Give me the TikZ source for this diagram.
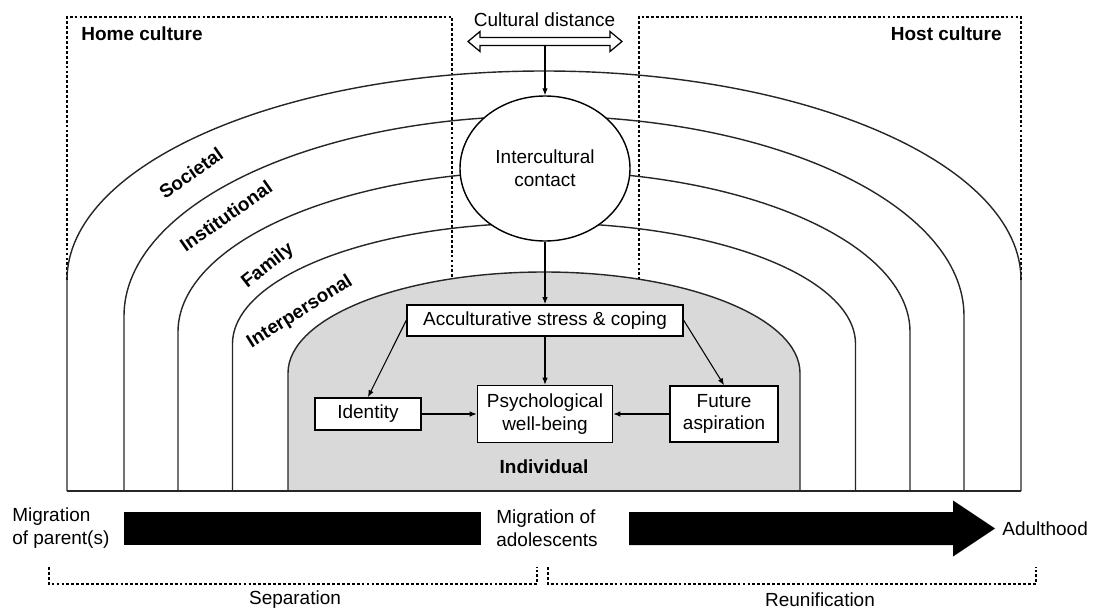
\documentclass[tikz,border=0pt]{standalone}
\usepackage{fontspec}
\setmainfont{Liberation Sans}
\usetikzlibrary{arrows.meta,positioning,shapes.geometric}
\tikzset{
  box/.style={rectangle, draw=black, line width=0.9pt, fill=white, align=center, inner sep=2pt},
  ring/.style={draw=black!85, line width=0.8pt},
  lvl/.style={font=\bfseries, rotate=#1, inner sep=0pt},
  txt/.style={inner sep=0pt, align=left},
  zone/.style={draw=black, line width=0.6pt, dash pattern=on 1.6pt off 1.2pt},
  flow/.style={-{Latex[length=1.4mm,width=1.1mm]}, line width=0.6pt},
}

\begin{document}
\fontsize{10.8}{13}\selectfont
\begin{tikzpicture}
  \useasboundingbox (0,0) rectangle (21.86,12.2);
  \draw[zone] (1.34,6.6) -- (1.34,11.86) -- (9.04,11.86) -- (9.04,6.4);
  \draw[zone] (12.78,6.4) -- (12.78,11.86) -- (20.42,11.86) -- (20.42,6.6);
  \node[txt, anchor=west, font=\bfseries] (home) at (1.62,11.52) {Home culture};
  \node[txt, anchor=east, font=\bfseries] (host) at (20.04,11.52) {Host culture};
  \draw[ring] (1.34,2.38) -- (1.34,6.6) arc[start angle=180, end angle=0, x radius=9.54, y radius=4.18] -- (20.42,2.38);
  \draw[ring] (2.48,2.38) -- (2.48,5.88) arc[start angle=180, end angle=0, x radius=8.4, y radius=4.0] -- (19.28,2.38);
  \draw[ring] (3.56,2.38) -- (3.56,5.56) arc[start angle=180, end angle=0, x radius=7.32, y radius=3.22] -- (18.2,2.38);
  \draw[ring] (4.65,2.38) -- (4.65,5.32) arc[start angle=180, end angle=0, x radius=6.23, y radius=2.42] -- (17.11,2.38);
  \filldraw[ring, fill=black!15] (5.76,2.38) -- (5.76,4.74) arc[start angle=180, end angle=0, x radius=5.12, y radius=2.02] -- (16.0,2.38) -- cycle;
  \draw[ring] (1.34,2.38) -- (20.42,2.38);
  \node[lvl=35] (soc) at (3.82,8.74) {Societal};
  \node[lvl=35] (inst) at (4.52,7.88) {Institutional};
  \node[lvl=38] (fam) at (5.36,6.88) {Family};
  \node[lvl=32] (inter) at (6.0,5.96) {Interpersonal};
  \node[ellipse, draw, line width=0.8pt, fill=white, minimum width=3.4cm, minimum height=2.9cm,
    inner sep=0pt, align=center] (contact) at (10.9,8.83) {Intercultural\\contact};
  \draw[line width=0.7pt, fill=white] (9.36,11.37) -- (9.6,11.57) -- (9.6,11.45) -- (12.2,11.45)
    -- (12.2,11.57) -- (12.44,11.37) -- (12.2,11.17) -- (12.2,11.29) -- (9.6,11.29) -- (9.6,11.17) -- cycle;
  \node (dist) at (10.89,11.8) {Cultural distance};
  \coordinate (distfoot) at (10.9,11.29);
  \draw[flow] (distfoot) -- (contact);
  \node[box, minimum width=2.7cm, minimum height=1.14cm] (wellb) at (10.9,3.92) {Psychological\\well-being};
  \node[box, minimum width=5.52cm, minimum height=0.62cm, above=0.96cm of wellb] (stress) {Acculturative stress \& coping};
  \node[box, minimum width=2.12cm, minimum height=0.64cm, left=1.1cm of wellb] (ident) {Identity};
  \node[box, minimum width=2.16cm, minimum height=1.12cm, right=1.12cm of wellb] (future) {Future\\aspiration};
  \node[font=\bfseries] (indiv) at (10.88,2.86) {Individual};
  \draw[flow] (contact) -- (stress);
  \draw[flow] (stress.west) -- (ident.north);
  \draw[flow] (stress.east) -- (future.north);
  \draw[flow] (stress) -- (wellb);
  \draw[flow] (ident) -- (wellb);
  \draw[flow] (future) -- (wellb);
  \fill (2.48,1.3) rectangle (9.62,1.96);
  \fill (12.58,1.3) -- (19.06,1.3) -- (19.06,1.07) -- (19.9,1.63) -- (19.06,2.19) -- (19.06,1.96) -- (12.58,1.96) -- cycle;
  \node[txt, anchor=west] (mparent) at (0.24,1.63) {Migration\\of parent(s)};
  \node[txt, anchor=west] (madol) at (9.92,1.63) {Migration of\\adolescents};
  \node[txt, anchor=west] (adult) at (20.04,1.63) {Adulthood};
  \draw[zone] (0.98,0.86) -- (0.98,0.52) -- (10.74,0.52) -- (10.74,0.86);
  \draw[zone] (10.96,0.86) -- (10.96,0.52) -- (20.72,0.52) -- (20.72,0.86);
  \node (sep) at (5.9,0.2) {Separation};
  \node (reun) at (16.4,0.2) {Reunification};
\end{tikzpicture}
\end{document}
